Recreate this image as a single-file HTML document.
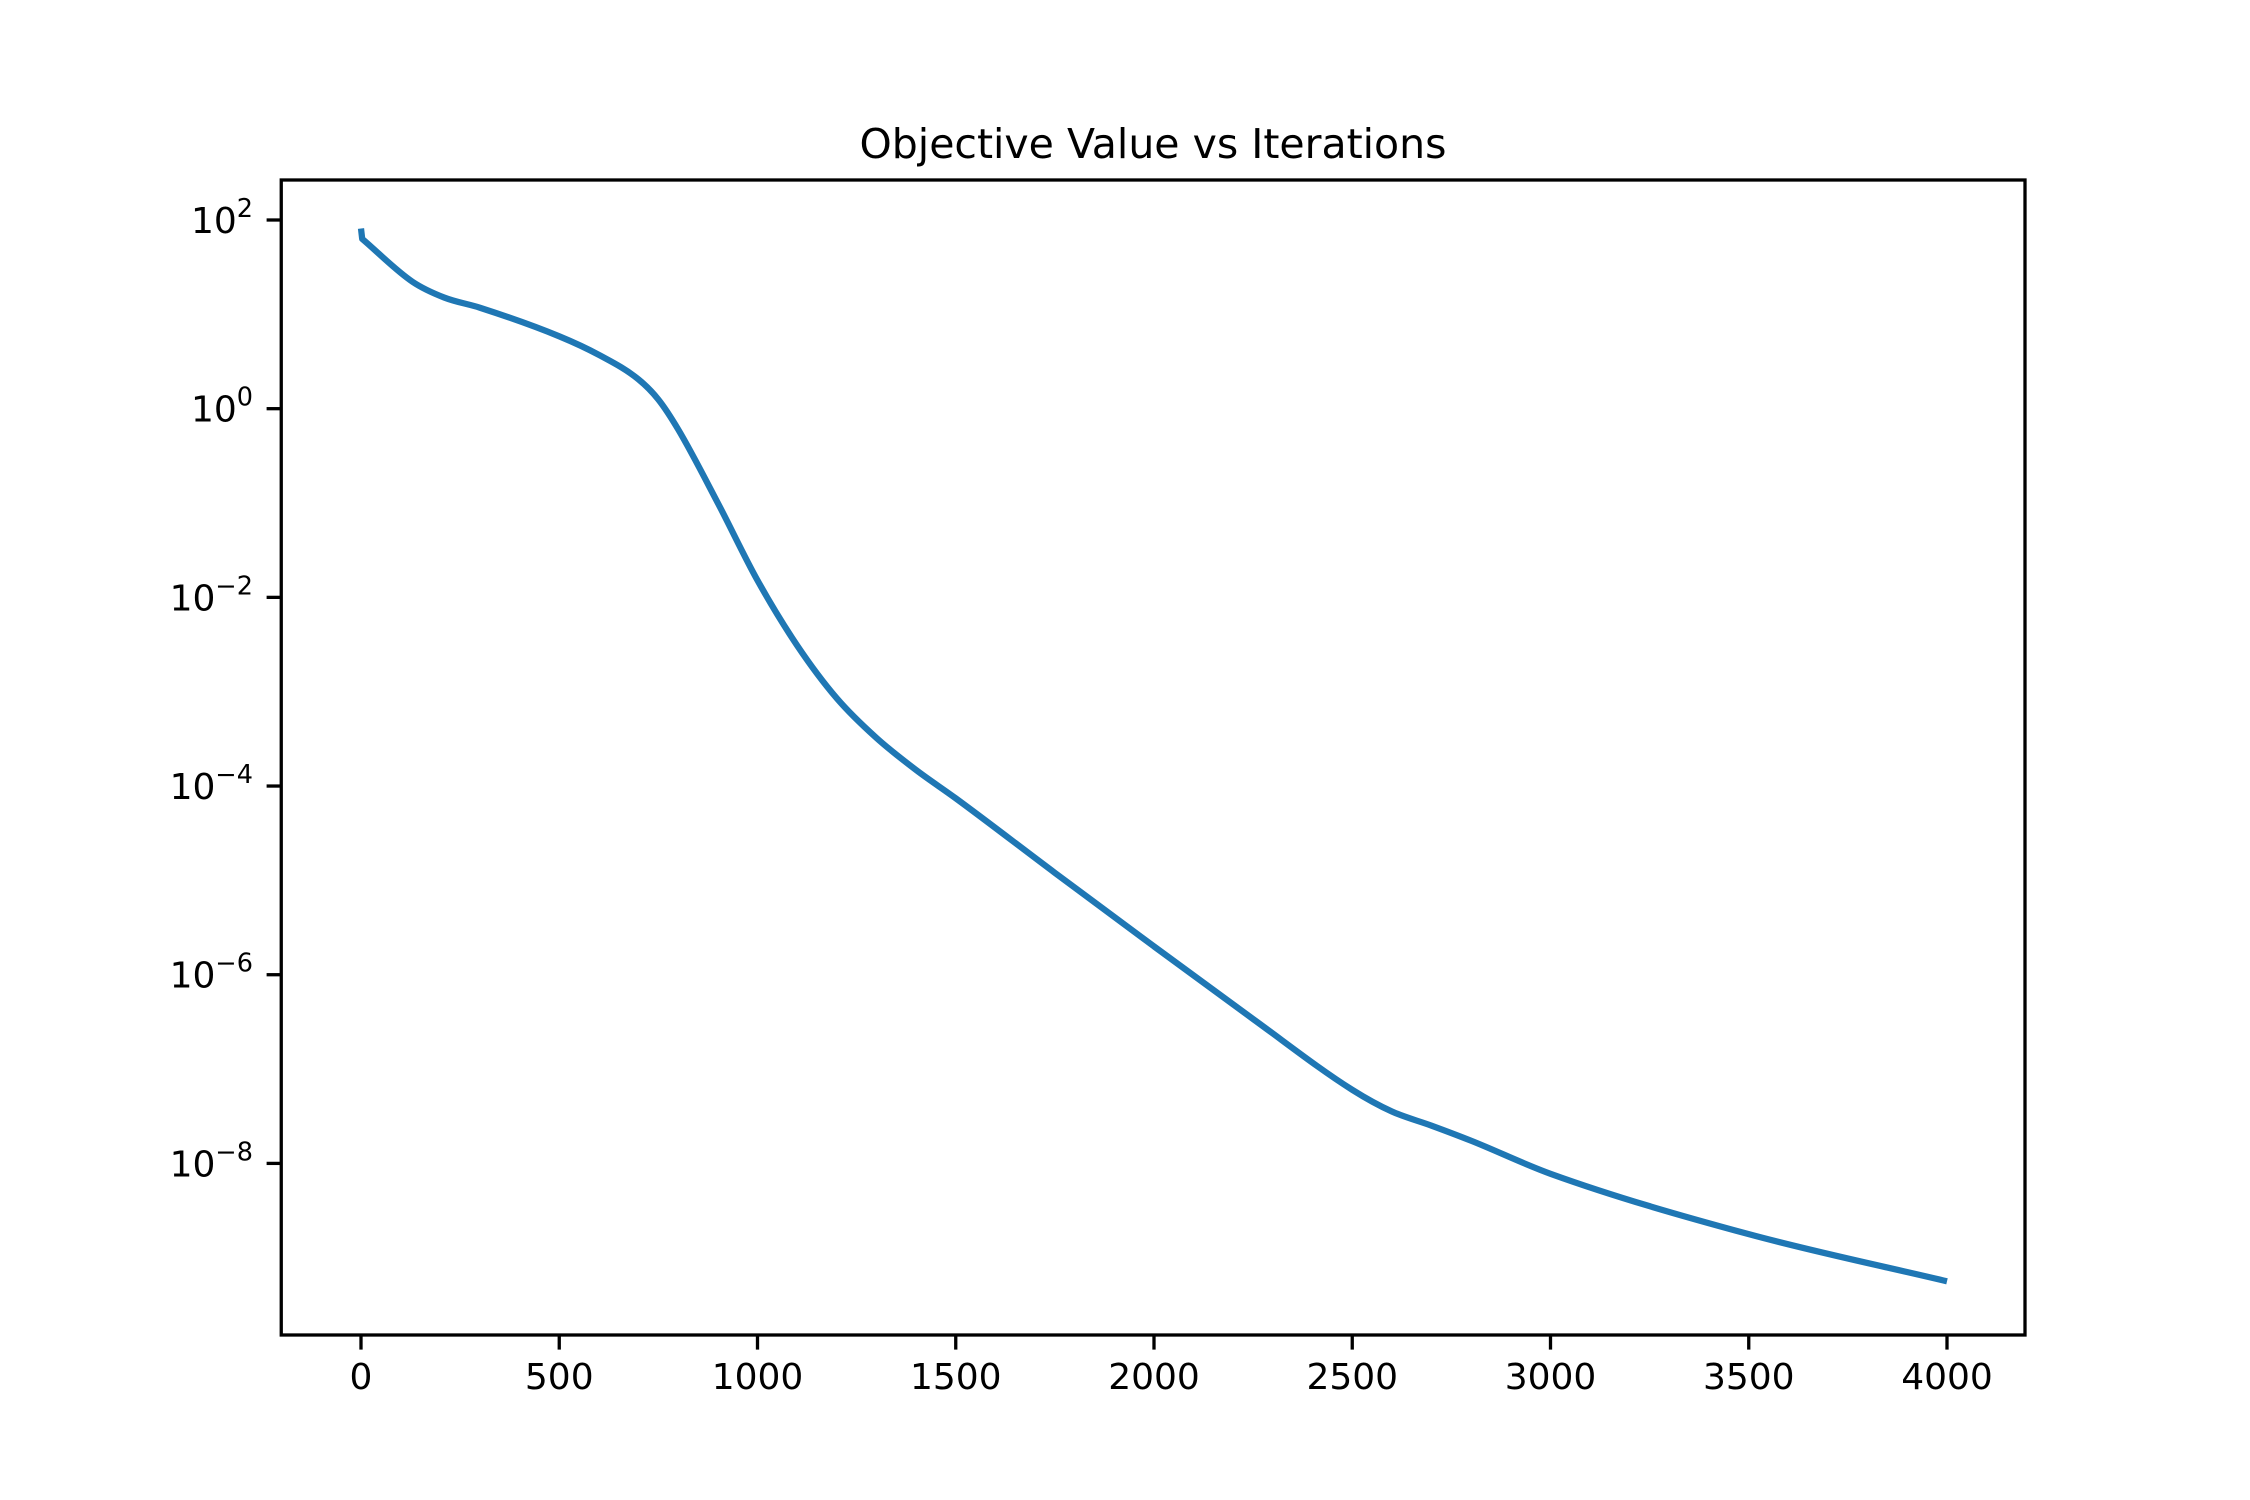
<!DOCTYPE html>
<html><head><meta charset="utf-8"><style>
html,body{margin:0;padding:0;background:#fff;}
svg{display:block;font-family:"DejaVu Sans","Liberation Sans",sans-serif;}
</style></head><body>
<svg id="chart" width="2250" height="1500" viewBox="0 0 2250 1500" xmlns="http://www.w3.org/2000/svg">
<rect width="2250" height="1500" fill="#fff"/>
<text x="1153" y="158" font-size="41" text-anchor="middle">Objective Value vs Iterations</text>
<g id="xticks"></g>
<g id="yticks"></g>
<path id="line" fill="none" stroke="#1f77b4" stroke-width="6.25" stroke-linejoin="round" stroke-linecap="butt"/>
<rect x="281.25" y="180" width="1743.75" height="1155" fill="none" stroke="#000" stroke-width="3.3"/>
</svg>
<script>
const iterations = [0, 3, 130, 210, 300, 500, 600, 700, 750, 800, 900, 1000, 1100, 1200, 1300, 1400, 1500, 1750, 2000, 2250, 2500, 2600, 2700, 2800, 3000, 3500, 4000];
const logObjective = [1.91, 1.80, 1.345, 1.178, 1.07, 0.767, 0.57, 0.31, 0.097, -0.22, -1.00, -1.82, -2.51, -3.07, -3.49, -3.83, -4.13, -4.92, -5.70, -6.47, -7.22, -7.45, -7.60, -7.76, -8.11, -8.75, -9.25];
const xTickValues = [0, 500, 1000, 1500, 2000, 2500, 3000, 3500, 4000];
const yTickExponents = [2, 0, -2, -4, -6, -8];

const NS = "http://www.w3.org/2000/svg";
function xScale(v){ return 361 + v * (1947 - 361) / 4000; }
function yScale(lg){ return 220 + (2 - lg) * 94.34; }

const xg = document.getElementById('xticks');
xTickValues.forEach(v => {
  const x = xScale(v);
  const t = document.createElementNS(NS, 'line');
  t.setAttribute('x1', x); t.setAttribute('x2', x);
  t.setAttribute('y1', 1335); t.setAttribute('y2', 1349.6);
  t.setAttribute('stroke', '#000'); t.setAttribute('stroke-width', 3.3);
  
  
  xg.appendChild(t);
  const l = document.createElementNS(NS, 'text');
  l.setAttribute('x', x); l.setAttribute('y', 1389);
  l.setAttribute('font-size', 36); l.setAttribute('text-anchor', 'middle');
  l.textContent = v;
  
  
  xg.appendChild(l);
});

const yg = document.getElementById('yticks');
yTickExponents.forEach(e => {
  const y = yScale(e);
  const t = document.createElementNS(NS, 'line');
  t.setAttribute('x1', 266.6); t.setAttribute('x2', 281.25);
  t.setAttribute('y1', y); t.setAttribute('y2', y);
  t.setAttribute('stroke', '#000'); t.setAttribute('stroke-width', 3.3);
  
  
  yg.appendChild(t);
  const l = document.createElementNS(NS, 'text');
  l.setAttribute('x', 253); l.setAttribute('y', y + 13);
  l.setAttribute('font-size', 36); l.setAttribute('text-anchor', 'end');
  const base = document.createElementNS(NS, 'tspan');
  base.textContent = '10';
  const sup = document.createElementNS(NS, 'tspan');
  sup.setAttribute('font-size', 25.5);
  sup.setAttribute('dy', -16);
  sup.textContent = (e < 0 ? '\u2212' + (-e) : String(e));
  l.appendChild(base); l.appendChild(sup);
  
  
  yg.appendChild(l);
});

// Monotone cubic (Fritsch-Carlson) interpolation from index 1 onward
const px = iterations.map(xScale), py = logObjective.map(yScale);
const n = px.length;
const dk = [], m = [];
for (let i = 1; i < n - 1; i++) dk[i] = (py[i+1] - py[i]) / (px[i+1] - px[i]);
for (let i = 1; i < n; i++) {
  if (i === 1) m[i] = dk[1];
  else if (i === n - 1) m[i] = dk[n-2];
  else m[i] = (dk[i-1] * dk[i] <= 0) ? 0 : (dk[i-1] + dk[i]) / 2;
}
let d = 'M' + px[0] + ',' + py[0] + ' L' + px[1] + ',' + py[1];
for (let i = 1; i < n - 1; i++) {
  const h = px[i+1] - px[i];
  d += ' C' + (px[i] + h/3) + ',' + (py[i] + m[i]*h/3) + ' ' + (px[i+1] - h/3) + ',' + (py[i+1] - m[i+1]*h/3) + ' ' + px[i+1] + ',' + py[i+1];
}
document.getElementById('line').setAttribute('d', d);
</script>
</body></html>
